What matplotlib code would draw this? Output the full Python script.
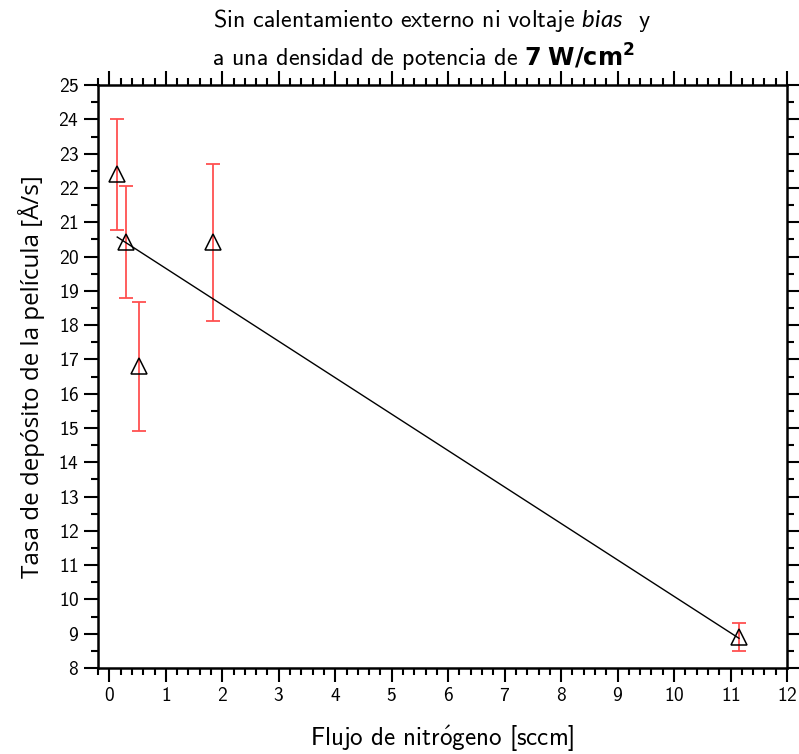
import numpy as np
import matplotlib
matplotlib.use("Agg")
import matplotlib.pyplot as plt
from matplotlib.ticker import MultipleLocator

plt.rcParams['font.family'] = ['cmss10', 'DejaVu Sans']
plt.rcParams['axes.formatter.use_mathtext'] = True
plt.rcParams['mathtext.fontset'] = 'custom'
plt.rcParams['mathtext.rm'] = 'cmss10'
plt.rcParams['mathtext.it'] = 'Lato:italic'
plt.rcParams['mathtext.bf'] = 'DejaVu Sans:bold'

# data
flujo = [0.14, 0.30, 0.53, 1.83, 11.15]
tasa = [22.4, 20.42, 16.8, 20.42, 8.9]
err = [1.62, 1.64, 1.88, 2.29, 0.41]

# linear fit drawn through the points
fit_a = 20.72
fit_b = -1.063

fig = plt.figure(figsize=(7.99, 7.54), dpi=100)
ax = fig.add_axes([0.1227, 0.114, 0.8623, 0.773])

ax.errorbar(flujo, tasa, yerr=err, fmt='none', ecolor='#ff5050', elinewidth=1.3,
            capsize=5, capthick=1.3, zorder=1)

xf = np.array([min(flujo), max(flujo)])
ax.plot(xf, fit_a + fit_b * xf, color='black', lw=1.0, zorder=2)

ax.plot(flujo, tasa, '^', ms=11, mfc='none', mec='black', mew=1.1, zorder=3)

ax.set_xlim(-0.2, 12)
ax.set_ylim(8, 25)
ax.xaxis.set_major_locator(MultipleLocator(1))
ax.xaxis.set_minor_locator(MultipleLocator(0.2))
ax.yaxis.set_major_locator(MultipleLocator(1))
ax.yaxis.set_minor_locator(MultipleLocator(0.5))
ax.tick_params(which='both', direction='out', top=True, right=True, width=1.5,
               labelsize=14)
ax.tick_params(which='major', length=10)
ax.tick_params(which='minor', length=5)
for s in ax.spines.values():
    s.set_linewidth(1.8)

ax.set_xlabel(r'Flujo de nitr$\mathsf{\acute{o}}$geno [sccm]', fontsize=18,
              labelpad=13, math_fontfamily='cm')
ax.set_ylabel('Tasa de depósito de la película [Å/s]', family='Open Sans',
              fontsize=17.4, labelpad=10)

fig.text(0.541, 0.973, r'Sin calentamiento externo ni voltaje $\it{bias}$  y',
         ha='center', va='center', fontsize=17.3)
fig.text(0.530, 0.923, r'a una densidad de potencia de $\mathbf{7\ W/cm^2}$',
         ha='center', va='center', fontsize=17.3)

fig.savefig('out.png', dpi=100)
